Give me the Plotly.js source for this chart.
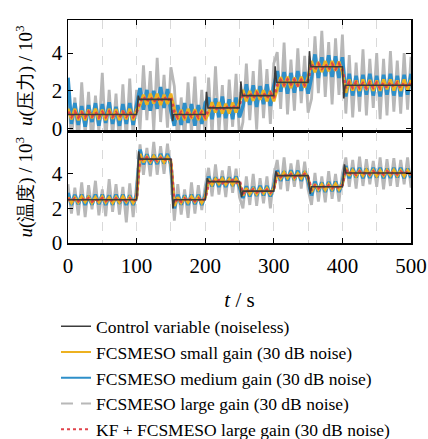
<!DOCTYPE html>
<html><head><meta charset="utf-8">
<script src="https://cdn.plot.ly/plotly-3.0.1.min.js"></script>
<style>html,body{margin:0;padding:0;background:#fff}#chart{width:428px;height:439px}</style>
</head><body><div id="chart"></div>
<script>
// sample times of the noisy estimates (s)
const tNoisy = [0,5,10,15,20,25,30,35,40,45,50,55,60,65,70,75,80,85,90,95,100,
105,110,115,120,125,130,135,140,145,150,155,160,165,170,175,180,185,190,195,200,
205,210,215,220,225,230,235,240,245,250,255,260,265,270,275,280,285,290,295,300,
305,310,315,320,325,330,335,340,345,350,355,360,365,370,375,380,385,390,395,400,
405,410,415,420,425,430,435,440,445,450,455,460,465,470,475,480,485,490,495,500];

// ---- top panel: u(压力) / 10^3 ----
const tCtrlP = [0,100,102.5,104,150,152.5,154,200,202,204,250,252,254,300,302,304,350,352,354,400,402,404,500];
const ctrlP  = [.75,.75,1.75,1.55,1.55,.4,.75,.75,1.95,1.1,1.1,2.5,1.75,1.75,3.3,2.45,2.45,4.1,3.28,3.28,1.6,2.3,2.3];

const largeP = [2.25,-.65,1.65,-.85,2.45,-.35,1.95,-.95,1.75,-.15,2.95,-.75,2.05,-.45,1.85,-.85,2.35,-.65,2.65,-.45,2.05,
-.05,3.35,.45,3.05,-.15,3.75,.35,2.85,.05,3.25,
2.25,-.85,1.65,-.65,2.45,-.25,2.75,-.75,2.05,-.55,
2.7,-.4,3.3,-.2,2.3,-.6,2.6,.1,2.9,-.5,
.35,3.45,.45,3.05,-.05,3.65,.55,3.15,.25,3.45,
4.05,1.05,4.55,.75,3.65,.95,4.25,1.35,3.85,.85,
1.58,4.88,1.88,5.18,1.68,4.58,1.28,4.78,1.78,4.98,
.8,3.9,.6,3.5,.9,4.2,.7,3.7,1.1,4.0,.5,3.7,.7,4.1,.9,3.6,.8,4.0,1.0,3.8];

const mediumP = [2.7,.25,1.35,.2,1.2,.1,1.25,.35,1.35,.15,1.3,.3,1.4,.25,1.15,.15,1.3,.25,1.35,.2,1.25,
2.15,1.0,2.05,.95,2.0,1.05,2.2,1.1,2.1,.95,
.15,1.25,.2,1.35,.3,1.3,.15,1.25,.25,1.35,
1.65,.5,1.6,.6,1.7,.55,1.55,.5,1.65,.6,
1.2,2.35,1.25,2.3,1.15,2.25,1.3,2.35,1.2,2.25,
3.05,1.95,3.0,1.85,2.95,1.9,3.05,2.0,3.0,1.85,
2.73,3.93,2.68,3.78,2.78,3.88,2.73,3.83,2.68,3.78,
1.7,2.9,1.75,2.8,1.7,2.85,1.8,2.9,1.75,2.8,1.7,2.85,1.8,2.9,1.75,2.8,1.7,2.85,1.8,2.9];

const smallP = [1.05,.5,1.05,.45,.95,.45,1.0,.55,1.05,.47,1.0,.45,1.05,.53,1.03,.45,.95,.5,1.05,.45,1.0,
1.25,1.8,1.27,1.85,1.33,1.85,1.25,1.8,1.3,1.85,
1.05,.47,1.0,.45,1.05,.53,1.03,.45,1.0,.45,
.82,1.4,.85,1.4,.8,1.32,.8,1.38,.85,1.4,
2.05,1.45,2.0,1.47,2.05,1.53,2.03,1.45,2.0,1.45,
2.15,2.73,2.2,2.75,2.15,2.7,2.23,2.75,2.17,2.75,
3.58,2.98,3.53,3.0,3.58,3.03,3.58,3.06,3.56,2.98,
1.9,2.6,2.02,2.55,2.0,2.6,2.05,2.58,2.0,2.55,2.0,2.6,2.08,2.6,2.02,2.55,2.0,2.6,2.05,2.58];

const kfP = [.9,.63,.89,.6,.85,.61,.9,.65,.88,.6,.87,.62,.9,.63,.85,.6,.89,.65,.9,.62,.87,
1.41,1.7,1.43,1.68,1.4,1.65,1.42,1.7,1.45,1.69,
.89,.6,.87,.62,.9,.65,.88,.6,.87,.61,
.98,1.25,.96,1.2,.95,1.23,.98,1.25,1.0,1.24,
1.88,1.6,1.87,1.61,1.9,1.65,1.89,1.62,1.9,1.63,
2.3,2.57,2.32,2.6,2.35,2.59,2.3,2.57,2.31,2.58,
3.4,3.14,3.43,3.18,3.41,3.13,3.42,3.16,3.43,3.15,
2.15,2.44,2.18,2.45,2.17,2.4,2.15,2.44,2.18,2.43,2.15,2.42,2.16,2.45,2.2,2.43,2.15,2.44,2.18,2.45];

// ---- bottom panel: u(温度) / 10^3 ----
const tCtrlT = [0,100,103,105,150,153,155,200,203,205,250,253,255,300,303,305,350,353,355,400,403,405,500];
const ctrlT  = [2.5,2.5,5.3,4.85,4.85,2.0,2.5,2.5,3.75,3.55,3.55,2.65,3.0,3.0,4.15,3.9,3.9,2.85,3.25,3.25,4.55,4.05,4.05];

const largeT = [3.4,1.7,3.2,1.6,3.5,1.5,3.35,1.95,3.6,1.6,3.1,1.55,3.7,1.8,3.4,1.65,3.25,1.2,3.45,1.5,3.4,
5.7,3.95,5.5,3.85,5.85,3.95,5.6,4.0,5.75,4.05,
1.3,3.4,1.65,3.1,1.45,3.5,1.7,3.35,1.9,3.3,
4.35,2.7,4.55,2.8,4.2,2.65,4.45,2.9,4.3,2.65,
2.0,3.85,2.2,4.0,2.15,3.75,2.3,3.85,2.0,3.9,
4.8,3.1,4.95,3.0,4.6,3.25,4.8,3.15,4.7,3.1,
2.2,4.05,2.4,3.85,2.35,4.15,2.55,4.0,2.4,4.05,
4.95,3.25,4.8,3.15,5.0,3.3,4.85,3.4,4.75,3.25,4.95,3.1,4.85,3.3,4.9,3.25,4.8,3.4,4.95,3.2];

const mediumT = [2.9,2.2,2.78,2.25,2.8,2.2,2.72,2.22,2.8,2.25,2.8,2.2,2.75,2.22,2.8,2.28,2.8,2.2,2.75,2.2,2.78,
5.4,4.55,5.13,4.55,5.1,4.57,5.15,4.6,5.15,4.55,
2.0,2.8,2.22,2.75,2.2,2.8,2.25,2.78,2.2,2.75,
3.85,3.27,3.8,3.25,3.83,3.25,3.8,3.3,3.85,3.25,
2.6,3.28,2.7,3.25,2.72,3.3,2.75,3.3,2.7,3.28,
4.2,3.6,4.15,3.62,4.2,3.65,4.18,3.6,4.15,3.6,
2.75,3.55,2.97,3.5,2.95,3.53,3.0,3.55,2.95,3.53,
4.45,3.75,4.33,3.8,4.35,3.75,4.3,3.77,4.35,3.8,4.35,3.75,4.3,3.77,4.35,3.8,4.35,3.75,4.3,3.77];

const smallT = [2.65,2.33,2.62,2.35,2.67,2.38,2.65,2.33,2.64,2.37,2.67,2.35,2.62,2.33,2.65,2.36,2.67,2.38,2.65,2.33,2.63,
5.15,4.68,4.99,4.7,5.02,4.73,5.0,4.68,4.98,4.7,
2.15,2.65,2.33,2.63,2.35,2.67,2.38,2.65,2.33,2.64,
3.7,3.38,3.69,3.43,3.72,3.4,3.68,3.38,3.7,3.41,
2.75,3.17,2.85,3.13,2.83,3.15,2.88,3.16,2.85,3.14,
4.06,3.75,4.07,3.77,4.05,3.73,4.02,3.75,4.07,3.76,
2.95,3.4,3.09,3.39,3.08,3.4,3.12,3.42,3.1,3.39,
4.35,3.89,4.2,3.88,4.18,3.9,4.22,3.93,4.2,3.88,4.19,3.9,4.21,3.92,4.22,3.9,4.19,3.88,4.2,3.93];

const kfT = [2.58,2.41,2.57,2.42,2.59,2.43,2.58,2.41,2.56,2.42,2.59,2.43,2.58,2.41,2.57,2.42,2.59,2.44,2.58,2.41,2.57,
5.0,4.77,4.94,4.78,4.93,4.76,4.92,4.77,4.94,4.79,
2.3,2.58,2.41,2.57,2.42,2.59,2.43,2.58,2.41,2.57,
3.47,3.64,3.48,3.63,3.46,3.62,3.47,3.64,3.49,3.63,
2.85,3.08,2.92,3.09,2.93,3.07,2.91,3.08,2.92,3.09,
3.98,3.82,3.99,3.83,3.97,3.81,3.98,3.82,3.99,3.83,
3.05,3.33,3.17,3.34,3.16,3.32,3.18,3.33,3.17,3.34,
4.25,3.97,4.13,3.96,4.14,3.97,4.12,3.98,4.14,3.96,4.13,3.97,4.14,3.96,4.13,3.98,4.12,3.97,4.14,3.96];

const names = ['Control variable (noiseless)','FCSMESO small gain (30 dB noise)',
  'FCSMESO medium gain (30 dB noise)','FCSMESO large gain (30 dB noise)','KF + FCSMESO large gain (30 dB noise)'];
const xTicks = [0,100,200,300,400,500];
const yTicks = [0,2,4];

const C_CTRL='#3c3c3c', C_SMALL='#EDB120', C_MED='#2E8FC9', C_LARGE='#B8B8B8', C_KF='#E0434B';

function panel(xa, ya, ctrlT_, ctrl, large, med, small, kf){
  return [
    {x:tNoisy,y:large,xaxis:xa,yaxis:ya,mode:'lines',showlegend:false,
      line:{color:C_LARGE,width:2.8}},
    {x:tNoisy,y:med,xaxis:xa,yaxis:ya,mode:'lines',showlegend:false,
      line:{color:C_MED,width:3.6}},
    {x:tNoisy,y:small,xaxis:xa,yaxis:ya,mode:'lines',showlegend:false,
      line:{color:C_SMALL,width:3}},
    {x:tNoisy,y:kf,xaxis:xa,yaxis:ya,mode:'lines',showlegend:false,
      line:{color:C_KF,width:2.8,dash:'dot'}},
    {x:ctrlT_,y:ctrl,xaxis:xa,yaxis:ya,mode:'lines',showlegend:false,
      line:{color:C_CTRL,width:1.6}}
  ];
}

// legend entries (style keys only, no marks)
const legendStyles = [
  {color:C_CTRL,width:1.6,dash:'solid'},
  {color:C_SMALL,width:2,dash:'solid'},
  {color:C_MED,width:2,dash:'solid'},
  {color:C_LARGE,width:2,dash:'12px,8px'},
  {color:C_KF,width:2,dash:'dot'}
];
const legendTraces = names.map((n,i)=>({x:[null],y:[null],mode:'lines',name:n,legendrank:i+1,
  line:legendStyles[i],xaxis:'x',yaxis:'y'}));

const data = [].concat(
  panel('x','y',tCtrlP,ctrlP,largeP,mediumP,smallP,kfP),
  panel('x2','y2',tCtrlT,ctrlT,largeT,mediumT,smallT,kfT),
  legendTraces
);

const serif = 'Liberation Serif, DejaVu Serif, serif';
const xCommon = {range:[0,500], tickvals:xTicks, ticks:'inside', ticklen:5, tickwidth:1, tickcolor:'#000',
  showline:true, linecolor:'#000', linewidth:1.5, mirror:'ticks', zeroline:false,
  showgrid:true, gridcolor:'#d9d9d9', griddash:'dash', gridwidth:1,
  minor:{dtick:50, tick0:0, showgrid:true, gridcolor:'#d9d9d9', griddash:'dash', gridwidth:1, ticks:''}};
const yCommon = {tickvals:yTicks, ticks:'inside', ticklen:5, tickwidth:1, tickcolor:'#000',
  showline:true, linecolor:'#000', linewidth:1.5, mirror:'ticks', zeroline:false, showgrid:false,
  tickfont:{family:serif,size:21,color:'#000'}, automargin:false};

const layout = {
  width:428, height:439, margin:{l:68,r:17,t:20,b:196,autoexpand:false},
  paper_bgcolor:'#fff', plot_bgcolor:'#fff',
  font:{family:serif, color:'#000'},
  showlegend:true,
  xaxis:Object.assign({}, xCommon, {anchor:'y', showticklabels:false, matches:'x2'}),
  xaxis2:Object.assign({}, xCommon, {anchor:'y2', automargin:false, ticklabelstandoff:3,
    tickfont:{family:serif,size:21,color:'#000'},
    title:{text:'<i>t</i> / s', font:{family:serif,size:21,color:'#000'}, standoff:15}}),
  yaxis:Object.assign({}, yCommon, {domain:[0.5,1], range:[-0.15,5.75],
    title:{text:'<i>u</i>(压力) / 10<sup>3</sup>', font:{family:serif,size:19,color:'#000'}, standoff:14}}),
  yaxis2:Object.assign({}, yCommon, {domain:[0,0.5], range:[0,6.45],
    title:{text:'<i>u</i>(温度) / 10<sup>3</sup>', font:{family:serif,size:19,color:'#000'}, standoff:14}}),
  legend:{x:-0.035, y:-0.293, xanchor:'left', yanchor:'top', orientation:'v', traceorder:'normal',
    font:{family:serif,size:17.5,color:'#000'}, bgcolor:'rgba(0,0,0,0)', borderwidth:0, tracegroupgap:0}
};

Plotly.newPlot('chart', data, layout, {displayModeBar:false, staticPlot:true});
</script></body></html>
